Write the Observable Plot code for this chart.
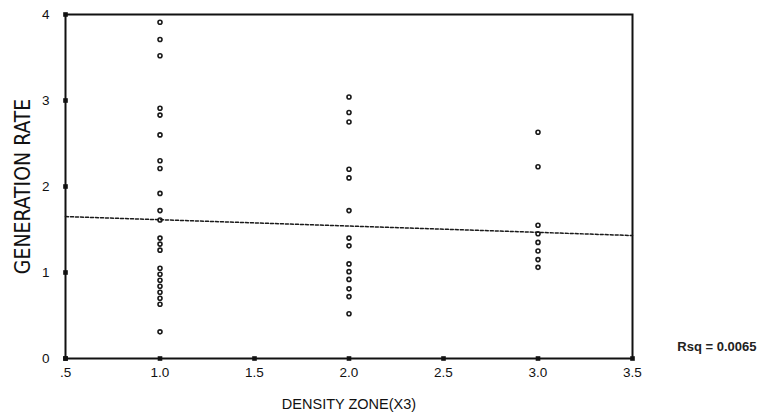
<!DOCTYPE html>
<html>
<head>
<meta charset="utf-8">
<script src="https://cdn.jsdelivr.net/npm/d3@7"></script>
<script src="https://cdn.jsdelivr.net/npm/@observablehq/plot@0.6"></script>
<style>
  html, body { margin: 0; padding: 0; background: #fff; }
  #chart { width: 762px; height: 419px; }
  svg { font-family: "Liberation Sans", Arial, sans-serif; }
</style>
</head>
<body>
<div id="chart"></div>
<script>
// Density zones and generation rates
const zone1 = [3.91, 3.71, 3.52, 2.91, 2.83, 2.60, 2.30, 2.21, 1.92, 1.72, 1.61, 1.40, 1.33, 1.26, 1.05, 0.98, 0.91, 0.84, 0.77, 0.70, 0.63, 0.31];
const zone2 = [3.04, 2.86, 2.75, 2.20, 2.10, 1.72, 1.40, 1.31, 1.10, 1.01, 0.92, 0.81, 0.72, 0.52];
const zone3 = [2.63, 2.23, 1.55, 1.45, 1.35, 1.25, 1.15, 1.06];
const zones = [1, 2, 3];
// fitted line endpoints
const fitX = [0.5, 3.5];
const fitY = [1.65, 1.43];
const xTicks = [0.5, 1.0, 1.5, 2.0, 2.5, 3.0, 3.5];
const xTickLabels = [".5", "1.0", "1.5", "2.0", "2.5", "3.0", "3.5"];
const yTicks = [0, 1, 2, 3, 4];
const yTickLabels = ["0", "1", "2", "3", "4"];
const rsqLabel = "Rsq = 0.0065";

const points = [];
[zone1, zone2, zone3].forEach((vals, i) => vals.forEach(v => points.push({x: zones[i], y: v})));
const fit = fitX.map((x, i) => ({x, y: fitY[i]}));

const chart = Plot.plot({
  width: 762,
  height: 419,
  marginLeft: 65,
  marginRight: 130,
  marginTop: 14,
  marginBottom: 61,
  style: {fontFamily: "Liberation Sans, Arial, sans-serif", fontSize: "13px", color: "#111", background: "#fff"},
  x: {domain: [0.5, 3.5]},
  y: {domain: [0, 4]},
  marks: [
    Plot.frame({stroke: "#111", strokeWidth: 2}),
    Plot.axisX({ticks: xTicks, tickFormat: d => xTickLabels[xTicks.indexOf(d)], tickSize: 0, tickPadding: 9,
      fontSize: 13.5, fill: "#111", label: null}),
    Plot.axisX({ticks: [], label: "DENSITY ZONE(X3)", labelAnchor: "center", labelArrow: "none", labelOffset: 50,
      fontSize: 14.5, fill: "#111"}),
    Plot.dot(xTicks, {x: d => d, frameAnchor: "bottom", symbol: "square", r: 2.6, fill: "#111"}),
    Plot.axisY({ticks: yTicks, tickFormat: d => yTickLabels[yTicks.indexOf(d)], tickSize: 0, tickPadding: 16,
      fontSize: 13.5, fill: "#111", label: null}),
    Plot.axisY({ticks: [], label: "GENERATION RATE", labelAnchor: "center", labelArrow: "none", labelOffset: 50,
      fontSize: 21, fontFamily: "Liberation Sans Narrow, DejaVu Sans Condensed, sans-serif", fill: "#111"}),
    Plot.dot(yTicks, {y: d => d, frameAnchor: "left", symbol: "square", r: 2.6, fill: "#111"}),
    Plot.line(fit, {x: "x", y: "y", stroke: "#1a1a1a", strokeWidth: 1.5, strokeDasharray: "3,2"}),
    Plot.dot(points, {x: "x", y: "y", r: 2, stroke: "#1a1a1a", strokeWidth: 1.6, fill: "none"}),
    Plot.text([rsqLabel], {frameAnchor: "bottom-right", dx: 124, dy: -8, text: d => d, textAnchor: "end",
      fontSize: 13, fontWeight: "bold", fill: "#222"})
  ]
});
document.getElementById("chart").appendChild(chart);
</script>
</body>
</html>
